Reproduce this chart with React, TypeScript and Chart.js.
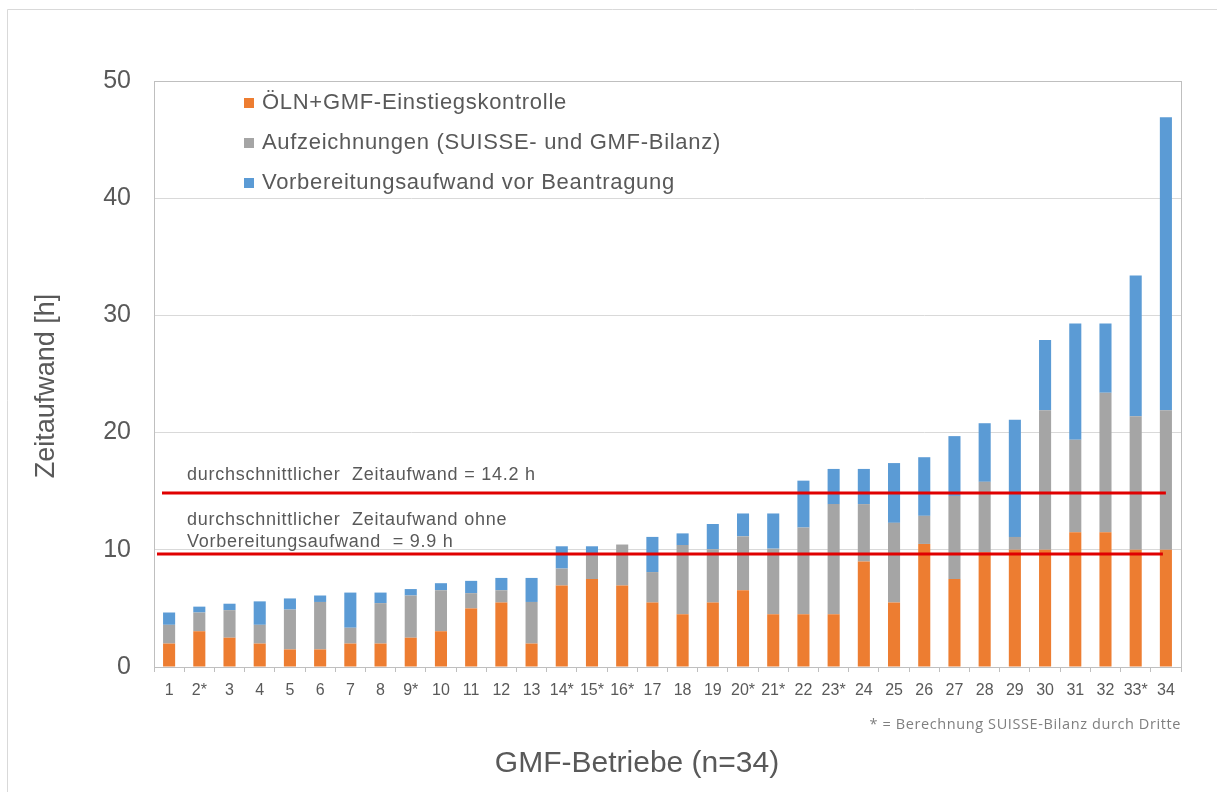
import React, { useEffect, useRef } from "react";
import { Chart, registerables } from "chart.js";

Chart.register(...registerables);

const CATEGORIES = [
  "1", "2*", "3", "4", "5", "6", "7", "8", "9*", "10", "11", "12", "13", "14*", "15*", "16*", "17",
  "18", "19", "20*", "21*", "22", "23*", "24", "25", "26", "27", "28", "29", "30", "31", "32", "33*", "34",
];

const OELN_VALUES = [
  2.0, 3.05, 2.5, 2.0, 1.5, 1.5, 2.0, 2.0, 2.5, 3.05, 5.0, 5.5, 2.0, 6.95, 7.5, 6.95, 5.5,
  4.5, 5.5, 6.55, 4.5, 4.5, 4.5, 9.0, 5.5, 10.5, 7.5, 9.8, 10.0, 10.0, 11.5, 11.5, 10.0, 10.0,
];

const AUFZEICHNUNGEN_VALUES = [
  1.6, 1.6, 2.35, 1.6, 3.4, 4.05, 1.35, 3.45, 3.6, 3.5, 1.3, 1.05, 3.55, 1.45, 2.0, 3.5, 2.6,
  5.9, 4.55, 4.6, 5.6, 7.4, 9.4, 4.9, 6.8, 2.4, 7.1, 6.0, 1.1, 11.9, 7.9, 11.9, 11.4, 11.9,
];

const VORBEREITUNG_VALUES = [
  1.05, 0.5, 0.55, 2.0, 0.95, 0.55, 3.0, 0.9, 0.55, 0.6, 1.05, 1.05, 2.05, 1.9, 0.8, 0.0, 3.0,
  1.0, 2.15, 1.95, 3.0, 4.0, 3.0, 3.0, 5.1, 5.0, 5.1, 5.0, 10.0, 6.0, 9.9, 5.9, 12.0, 25.0,
];

const SERIES_NAMES = [
  "ÖLN+GMF-Einstiegskontrolle",
  "Aufzeichnungen (SUISSE- und GMF-Bilanz)",
  "Vorbereitungsaufwand vor Beantragung",
];
const SERIES_COLORS = ["#ED7D31", "#A5A5A5", "#5B9BD5"];

// average lines (drawn position as in the original figure)
const AVG_TOTAL_LINE = 14.85;
const AVG_WITHOUT_PREP_LINE = 9.65;
const AVG_TOTAL_TEXT = ["durchschnittlicher  Zeitaufwand = 14.2 h"];
const AVG_WITHOUT_PREP_TEXT = ["durchschnittlicher  Zeitaufwand ohne", "Vorbereitungsaufwand  = 9.9 h"];

const Y_MIN = 0;
const Y_MAX = 50;
const Y_STEP = 10;

const Y_TITLE = "Zeitaufwand [h]";
const X_TITLE = "GMF-Betriebe (n=34)";
const FOOTNOTE = "* = Berechnung SUISSE-Bilanz durch Dritte";

const W = 1217;
const H = 792;
const FONT = "'Liberation Sans', Arial, sans-serif";
const TEXT_GRAY = "#595959";

const decorPlugin = {
  id: "decor",
  beforeDraw(chart: any) {
    const ctx = chart.ctx;
    ctx.save();
    ctx.fillStyle = "#ffffff";
    ctx.fillRect(0, 0, W, H);
    ctx.strokeStyle = "#d9d9d9";
    ctx.lineWidth = 1;
    ctx.beginPath();
    ctx.moveTo(7.5, H);
    ctx.lineTo(7.5, 9.5);
    ctx.lineTo(W, 9.5);
    ctx.stroke();
    ctx.restore();
  },
  afterDatasetsDraw(chart: any) {
    const ctx = chart.ctx;
    const area = chart.chartArea;
    const x = chart.scales.x;
    const y = chart.scales.y;
    ctx.save();

    // plot border
    ctx.strokeStyle = "#bfbfbf";
    ctx.lineWidth = 1;
    ctx.strokeRect(Math.round(area.left) + 0.5, Math.round(area.top) + 0.5, Math.round(area.right - area.left), Math.round(area.bottom - area.top));

    // average lines
    const lastCenter = x.getPixelForValue(CATEGORIES.length - 1);
    ctx.strokeStyle = "#E00000";
    ctx.lineWidth = 3;
    const yTot = y.getPixelForValue(AVG_TOTAL_LINE);
    ctx.beginPath();
    ctx.moveTo(area.left + 8, yTot);
    ctx.lineTo(lastCenter, yTot);
    ctx.stroke();
    const yNo = y.getPixelForValue(AVG_WITHOUT_PREP_LINE);
    ctx.beginPath();
    ctx.moveTo(area.left + 3, yNo);
    ctx.lineTo(lastCenter - 3, yNo);
    ctx.stroke();

    // annotation text
    ctx.fillStyle = TEXT_GRAY;
    ctx.font = `18px ${FONT}`;
    (ctx as any).letterSpacing = "0.75px";
    ctx.textAlign = "left";
    ctx.textBaseline = "middle";
    AVG_TOTAL_TEXT.forEach((t, i) => ctx.fillText(t, area.left + 33, yTot - 18 + i * 22));
    AVG_WITHOUT_PREP_TEXT.forEach((t, i) => ctx.fillText(t, area.left + 33, yNo - 34 + i * 22));

    // legend
    ctx.font = `22px ${FONT}`;
    (ctx as any).letterSpacing = "0.7px";
    SERIES_NAMES.forEach((name, i) => {
      const cy = area.top + 22 + i * 40;
      ctx.fillStyle = SERIES_COLORS[i];
      ctx.fillRect(area.left + 90, cy - 5, 10, 10);
      ctx.fillStyle = TEXT_GRAY;
      ctx.fillText(name, area.left + 108, cy);
    });
    (ctx as any).letterSpacing = "0px";

    // axis titles
    ctx.font = `27px ${FONT}`;
    ctx.textAlign = "center";
    ctx.save();
    ctx.translate(47, (area.top + area.bottom) / 2 + 12);
    ctx.rotate(-Math.PI / 2);
    ctx.fillText(Y_TITLE, 0, 0);
    ctx.restore();
    ctx.font = `30px ${FONT}`;
    ctx.fillText(X_TITLE, 637, 764);

    // footnote
    ctx.font = `14.5px 'Open Sans', sans-serif`;
    (ctx as any).letterSpacing = "0.6px";
    ctx.fillStyle = "#7f7f7f";
    ctx.textAlign = "right";
    ctx.fillText(FOOTNOTE, area.right, 725);
    (ctx as any).letterSpacing = "0px";

    ctx.restore();
  },
};

export default function App() {
  const canvasRef = useRef<HTMLCanvasElement | null>(null);

  useEffect(() => {
    const canvas = canvasRef.current;
    if (!canvas) return;
    const data = [OELN_VALUES, AUFZEICHNUNGEN_VALUES, VORBEREITUNG_VALUES];
    const chart = new Chart(canvas, {
      type: "bar",
      data: {
        labels: CATEGORIES,
        datasets: SERIES_NAMES.map((name, i) => ({
          label: name,
          data: data[i],
          backgroundColor: SERIES_COLORS[i],
          borderWidth: 0,
          barPercentage: 0.4,
          categoryPercentage: 1,
        })),
      },
      options: {
        animation: false,
        responsive: false,
        devicePixelRatio: 1,
        layout: { padding: { left: 0, top: 81, right: 36, bottom: 0 } },
        plugins: {
          legend: { display: false },
          tooltip: { enabled: false },
        },
        scales: {
          x: {
            stacked: true,
            grid: {
              display: true,
              drawOnChartArea: false,
              drawTicks: true,
              tickLength: 5,
              color: "#bfbfbf",
            },
            border: { display: true, color: "#bfbfbf" },
            ticks: {
              color: TEXT_GRAY,
              font: { family: FONT, size: 16 },
              padding: 9,
              maxRotation: 0,
              autoSkip: false,
            },
            afterFit(scale: any) {
              scale.height = H - 667;
            },
          },
          y: {
            stacked: true,
            min: Y_MIN,
            max: Y_MAX,
            ticks: {
              stepSize: Y_STEP,
              color: TEXT_GRAY,
              font: { family: FONT, size: 25 },
              padding: 23,
            },
            grid: { color: "#d9d9d9", drawTicks: false },
            border: { display: true, color: "#bfbfbf" },
            afterFit(scale: any) {
              scale.width = 154;
            },
          },
        },
      },
      plugins: [decorPlugin],
    });
    return () => chart.destroy();
  }, []);

  return (
    <div style={{ position: "absolute", left: 0, top: 0, width: W, height: H, background: "#fff" }}>
      <canvas ref={canvasRef} width={W} height={H} style={{ width: W, height: H, display: "block" }} />
    </div>
  );
}
